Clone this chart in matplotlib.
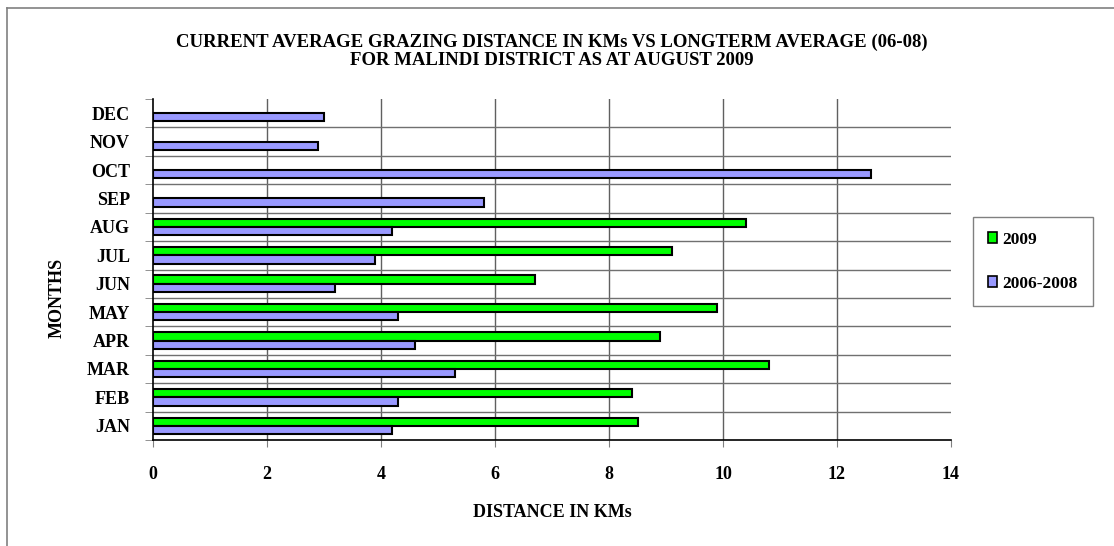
import matplotlib
matplotlib.use("Agg")
import matplotlib.pyplot as plt
from matplotlib.patches import Patch
from matplotlib.lines import Line2D
import numpy as np

months = ["JAN", "FEB", "MAR", "APR", "MAY", "JUN", "JUL", "AUG", "SEP", "OCT", "NOV", "DEC"]
current_2009 = [8.5, 8.4, 10.8, 8.9, 9.9, 6.7, 9.1, 10.4, np.nan, np.nan, np.nan, np.nan]
longterm_0608 = [4.2, 4.3, 5.3, 4.6, 4.3, 3.2, 3.9, 4.2, 5.8, 12.6, 2.9, 3.0]
xticks = [0, 2, 4, 6, 8, 10, 12, 14]

plt.rcParams['font.family'] = ['Liberation Serif', 'DejaVu Serif']
plt.rcParams['font.weight'] = 'bold'

W, H = 1114, 546
fig = plt.figure(figsize=(W/100, H/100), dpi=100)
ax = fig.add_axes([153/W, 1-440/H, (951-153)/W, (440-99)/H])

y = np.arange(len(months))
h = 0.29
ax.barh(y + h/2, current_2009, height=h, color='#00FF00', edgecolor='black', linewidth=1.5, label='2009', zorder=3)
ax.barh(y - h/2, longterm_0608, height=h, color='#9999FF', edgecolor='black', linewidth=1.5, label='2006-2008', zorder=3)

ax.set_xlim(0, 14)
ax.set_ylim(-0.5, len(months) - 0.5)
ax.set_xticks(xticks)
ax.set_xticklabels([str(v) for v in xticks], fontsize=13, fontweight='bold')
ax.set_yticks(y)
ax.set_yticklabels(months, fontsize=13, fontweight='bold')
ax.tick_params(axis='y', length=0, pad=16.5)
ax.tick_params(axis='x', length=5, color='#808080', pad=14)
ax.set_yticks(np.arange(-0.5, len(months)), minor=True)
ax.tick_params(axis='y', which='minor', length=6, color='#808080')
ax.tick_params(axis='x', which='minor', length=0)

for xv in xticks[1:-1]:
    ax.axvline(xv, color='#606060', linewidth=1, zorder=1)
for b in np.arange(0.5, len(months) - 1):
    ax.axhline(b, color='#707070', linewidth=1, zorder=1)

for s in ['top', 'right']:
    ax.spines[s].set_visible(False)
ax.spines['left'].set_color('black')
ax.spines['bottom'].set_color('black')
ax.spines['left'].set_linewidth(1.2)
ax.spines['bottom'].set_linewidth(1.2)

ax.set_xlabel('DISTANCE IN KMs', fontsize=13, fontweight='bold')
ax.xaxis.set_label_coords(0.5, -(504-440)/341)
ax.set_ylabel('MONTHS', fontsize=13, fontweight='bold')
ax.yaxis.set_label_coords(-(153-66)/798, (440-298)/341)

fig.text(552/W, 1-42/H, 'CURRENT AVERAGE GRAZING DISTANCE IN KMs VS LONGTERM AVERAGE (06-08)',
         ha='center', va='center', fontsize=13.5, fontweight='bold')
fig.text(552/W, 1-60/H, 'FOR MALINDI DISTRICT AS AT AUGUST 2009',
         ha='center', va='center', fontsize=13.5, fontweight='bold')

handles = [Patch(facecolor='#00FF00', edgecolor='black', linewidth=1.2, label='2009'),
           Patch(facecolor='#9999FF', edgecolor='black', linewidth=1.2, label='2006-2008')]
leg = fig.legend(handles=handles, loc='upper left', bbox_to_anchor=(973/W, 1-217/H),
                 frameon=True, fancybox=False, shadow=False, fontsize=12.5,
                 handlelength=0.55, handleheight=0.55, handletextpad=0.3,
                 labelspacing=1.6, borderpad=0.85, borderaxespad=0)
leg.get_frame().set_edgecolor('#606060')
leg.get_frame().set_linewidth(1.0)
for t in leg.get_texts():
    t.set_fontweight('bold')

fig.add_artist(Line2D([7/W, 7/W], [0, 1-8/H], color='#808080', linewidth=1.2))
fig.add_artist(Line2D([7/W, 1], [1-8/H, 1-8/H], color='#808080', linewidth=1.2))

fig.savefig('out.png', dpi=100)
